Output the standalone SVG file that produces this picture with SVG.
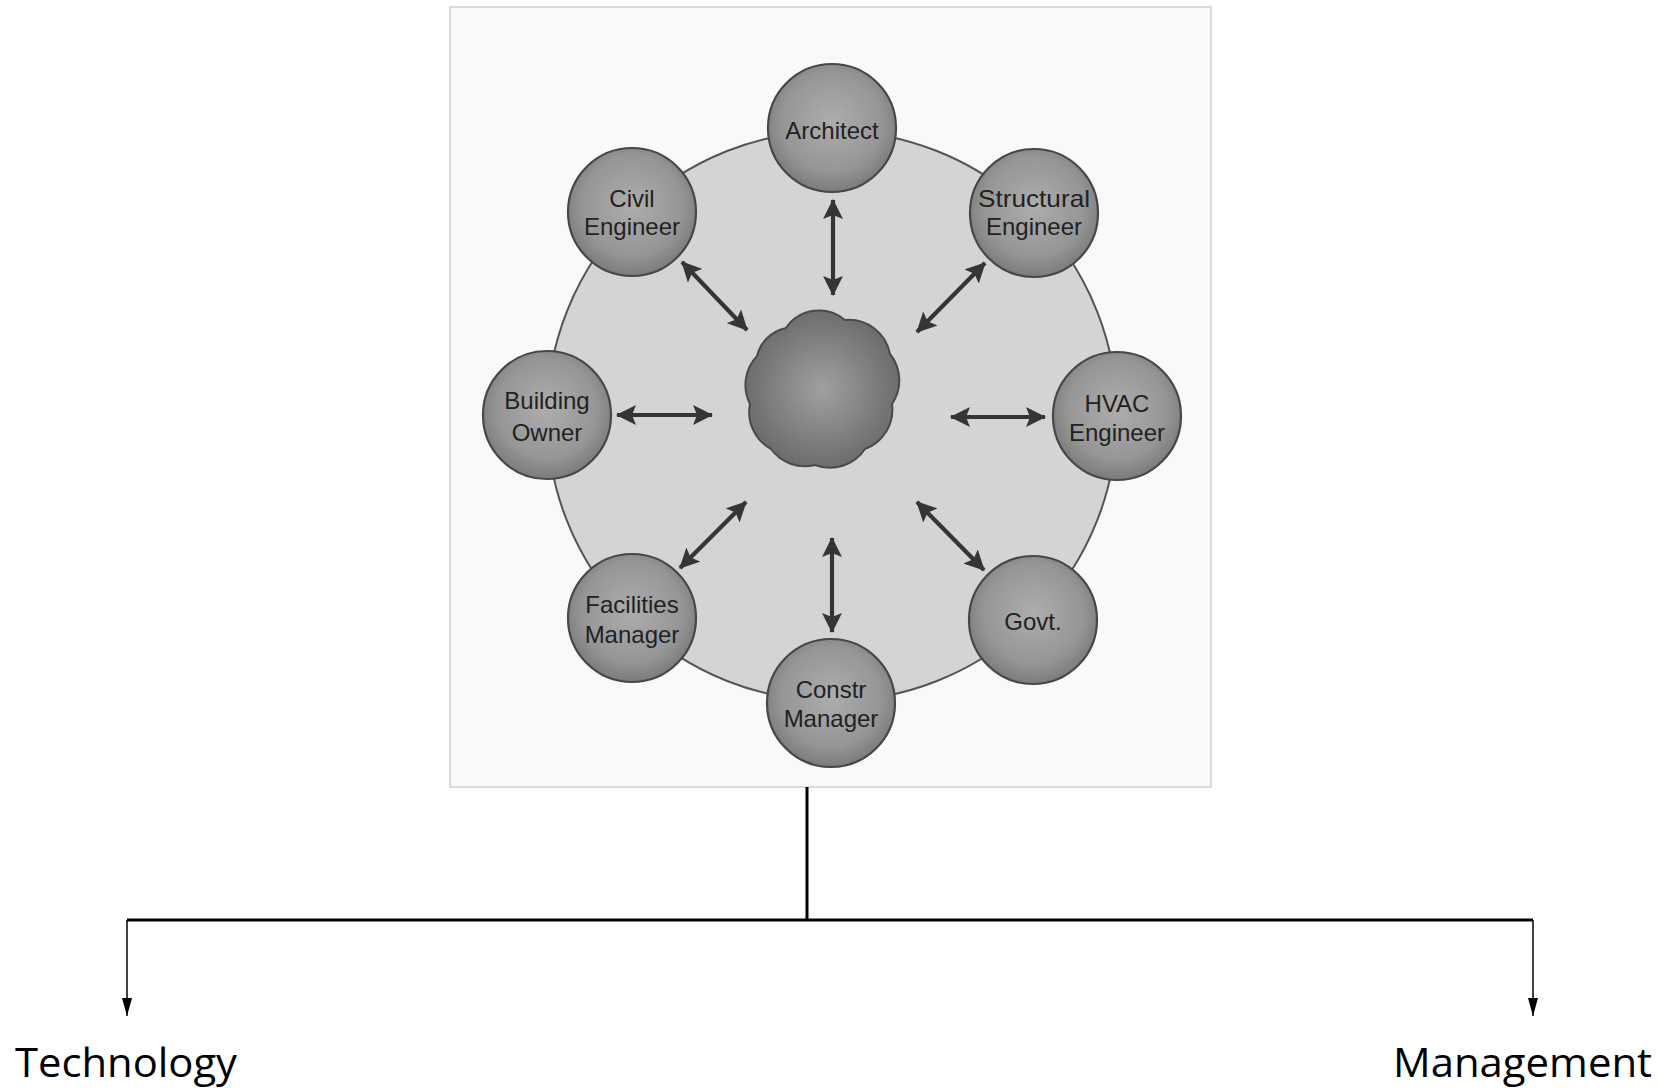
<svg xmlns="http://www.w3.org/2000/svg" width="1673" height="1090" viewBox="0 0 1673 1090">
<style>
.node circle{fill:url(#ng);stroke:#474747;stroke-width:2.2}
.node text{font-family:"Liberation Sans",Arial,sans-serif;font-size:24px;fill:#222;text-anchor:middle}
.dbl{stroke:#353535;stroke-width:4.2;fill:none;marker-start:url(#ah);marker-end:url(#ah)}
.tree{stroke:#000;stroke-width:3;fill:none}
.down{stroke:#000;stroke-width:1.5;fill:none;marker-end:url(#dh)}
.lbl{font-family:"Open Sans",Calibri,sans-serif;font-size:40px;fill:#000}
</style>
<defs>
<radialGradient id="ng" cx="50%" cy="45%" r="55%">
<stop offset="0" stop-color="#adadad"/>
<stop offset="0.7" stop-color="#969696"/>
<stop offset="1" stop-color="#7b7b7b"/>
</radialGradient>
<radialGradient id="cg" cx="50%" cy="50%" r="55%">
<stop offset="0" stop-color="#a0a0a0"/>
<stop offset="1" stop-color="#686868"/>
</radialGradient>
<marker id="ah" markerUnits="userSpaceOnUse" markerWidth="20" markerHeight="20" refX="19" refY="10" orient="auto-start-reverse">
<path d="M0,0 L20,10 L0,20 L4,10 z" fill="#353535"/>
</marker>
<marker id="dh" markerUnits="userSpaceOnUse" markerWidth="18" markerHeight="10" refX="18" refY="5" orient="auto">
<path d="M0,0 L18,5 L0,10 z" fill="#000"/>
</marker>
</defs>
<rect width="1673" height="1090" fill="#fff"/>
<g id="figure">
<rect x="450" y="7" width="761" height="780" fill="#f9f9f9" stroke="#d0d0d0" stroke-width="1.5"/>
<circle cx="832" cy="416" r="285" fill="#d4d4d4" stroke="#555" stroke-width="2"/>
</g>
<g id="cloud">
<path d="M786,328 A40,40 0 0 1 845,320 A42,42 0 0 1 890,354 A42,42 0 0 1 892,404 A42,42 0 0 1 865,449 A42,42 0 0 1 815,465 A42,42 0 0 1 771,449 A42,42 0 0 1 750,404 A42,42 0 0 1 757,356 A38,38 0 0 1 786,328 Z" fill="url(#cg)" stroke="#4a4a4a" stroke-width="2"/>
</g>
<g id="connectors">
<line class="dbl" x1="833" y1="200" x2="833" y2="295"/>
<line class="dbl" x1="682" y1="262" x2="747" y2="330"/>
<line class="dbl" x1="985" y1="263" x2="917" y2="332"/>
<line class="dbl" x1="617" y1="415" x2="712" y2="415"/>
<line class="dbl" x1="951" y1="417" x2="1045" y2="417"/>
<line class="dbl" x1="746" y1="502" x2="680" y2="568"/>
<line class="dbl" x1="917" y1="502" x2="984" y2="570"/>
<line class="dbl" x1="832" y1="538" x2="832" y2="632"/>
<path class="tree" d="M807,787 V920 M127,920 H1533"/>
<line class="down" x1="127" y1="920" x2="127" y2="1016"/>
<line class="down" x1="1533" y1="920" x2="1533" y2="1016"/>
</g>
<g id="architect" class="node"><circle cx="832" cy="128" r="64"/><text x="832" y="139">Architect</text></g>
<g id="civil" class="node"><circle cx="632" cy="212" r="64"/><text x="632" y="207">Civil</text><text x="632" y="235">Engineer</text></g>
<g id="structural" class="node"><circle cx="1034" cy="213" r="64"/><text x="1034" y="207" textLength="112" lengthAdjust="spacingAndGlyphs">Structural</text><text x="1034" y="235">Engineer</text></g>
<g id="owner" class="node"><circle cx="547" cy="415" r="64"/><text x="547" y="409">Building</text><text x="547" y="441">Owner</text></g>
<g id="hvac" class="node"><circle cx="1117" cy="416" r="64"/><text x="1117" y="412">HVAC</text><text x="1117" y="441">Engineer</text></g>
<g id="facilities" class="node"><circle cx="632" cy="618" r="64"/><text x="632" y="613">Facilities</text><text x="632" y="643">Manager</text></g>
<g id="govt" class="node"><circle cx="1033" cy="620" r="64"/><text x="1033" y="630">Govt.</text></g>
<g id="constr" class="node"><circle cx="831" cy="703" r="64"/><text x="831" y="698">Constr</text><text x="831" y="727">Manager</text></g>
<g id="technology"><text class="lbl" x="15" y="1077" textLength="222" lengthAdjust="spacingAndGlyphs">Technology</text></g>
<g id="management"><text class="lbl" x="1393" y="1077" textLength="259" lengthAdjust="spacingAndGlyphs">Management</text></g>
</svg>
